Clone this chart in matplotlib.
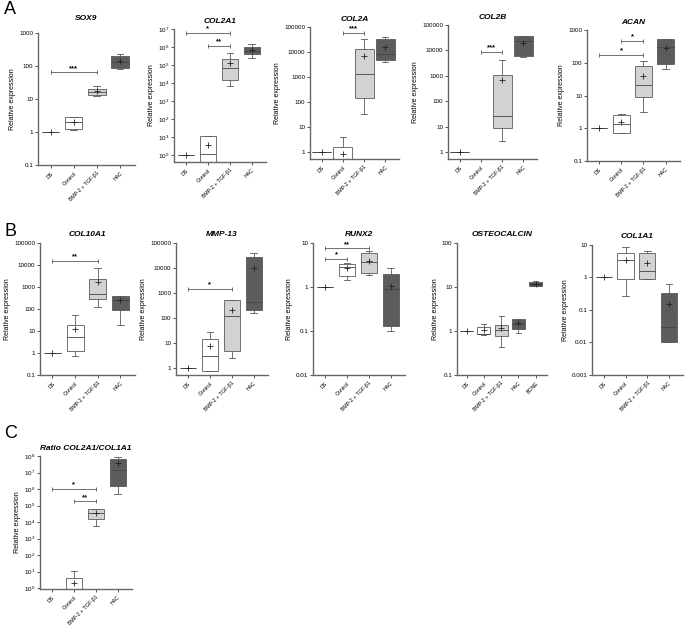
import matplotlib
matplotlib.use("Agg")
import matplotlib.pyplot as plt
from matplotlib.ticker import FixedLocator, NullLocator, FuncFormatter, LogFormatterSciNotation

plt.rcParams['font.family'] = ['Liberation Sans', 'DejaVu Sans']

# ---------------- data ----------------
CATS = ["DS", "Control", "BMP-2 + TGF-β1", "HAC"]
CATS_OC = ["DS", "Control", "BMP-2 + TGF-β1", "HAC", "BONE"]

# each group: [whisker_low, q1, median, q3, whisker_high, mean]
SOX9 = [[1, 1, 1, 1, 1, 1], [1.15, 1.2, 2.0, 2.8, 2.9, 2.0],
        [12.4, 13.2, 16, 20, 25, 18], [80, 87, 130, 200, 230, 145]]
SOX9_SIG = [(0, 2, 65, "***")]

COL2A1 = [[1, 1, 1, 1, 1, 1], [0.3, 0.3, 1.2, 11, 12, 3.5],
          [6.8e3, 1.5e4, 6.8e4, 2.1e5, 4.6e5, 1.3e5], [2.5e5, 4.1e5, 6e5, 1e6, 1.5e6, 7e5]]
COL2A1_SIG = [(0, 2, 6e6, "*"), (1, 2, 1.2e6, "**")]

COL2A = [[1, 1, 1, 1, 1, 1], [0.3, 0.3, 0.4, 1.6, 4, 0.8],
         [32, 140, 1300, 13000, 33000, 7000], [4000, 4600, 8500, 33000, 40000, 16000]]
COL2A_SIG = [(1, 2, 58000, "***")]

COL2B = [[1, 1, 1, 1, 1, 1], None,
         [2.7, 9.1, 25, 1070, 4000, 710], [5500, 5750, 24000, 36000, 38000, 20000]]
COL2B_SIG = [(1, 2, 9000, "***")]

ACAN = [[1, 1, 1, 1, 1, 1], [0.72, 0.74, 1.39, 2.56, 2.7, 1.6],
        [3.2, 8.9, 21, 80, 110, 39], [66, 93, 310, 520, 520, 290]]
ACAN_SIG = [(1, 2, 460, "*"), (0, 2, 175, "*")]

COL10A1 = [[1, 1, 1, 1, 1, 1], [0.73, 1.23, 5.4, 19, 51, 12.7],
           [120, 300, 490, 2400, 7100, 1700], [18, 90, 250, 400, 410, 250]]
COL10A1_SIG = [(0, 2, 15000, "**")]

MMP13 = [[1, 1, 1, 1, 1, 1], [0.74, 0.74, 3.0, 15, 27, 7.6],
         [2.6, 4.6, 115, 510, 510, 215], [165, 215, 440, 27000, 40000, 10000]]
MMP13_SIG = [(0, 2, 1500, "*")]

RUNX2 = [[1, 1, 1, 1, 1, 1], [1.46, 1.74, 2.8, 3.4, 3.6, 2.7],
         [1.9, 2.1, 3.66, 5.9, 6.5, 3.85], [0.1, 0.13, 0.92, 1.93, 2.7, 1.03]]
RUNX2_SIG = [(0, 2, 7.6, "**"), (0, 1, 4.4, "*")]

OSTEOCALCIN = [[1, 1, 1, 1, 1, 1], [0.82, 0.84, 0.87, 1.23, 1.47, 1.03],
               [0.43, 0.77, 1.03, 1.4, 2.17, 1.17], [0.92, 1.13, 1.47, 1.85, 1.9, 1.5],
               [10.3, 10.8, 12, 13, 14, 12]]
OSTEOCALCIN_SIG = []

COL1A1 = [[1, 1, 1, 1, 1, 1], [0.27, 0.87, 3.4, 5.5, 8.9, 3.4],
          [0.89, 0.89, 1.57, 5.7, 6.5, 2.8], [0.01, 0.01, 0.03, 0.34, 0.62, 0.148]]
COL1A1_SIG = []

RATIO = [None, [0.5, 0.5, 0.6, 4, 11, 2],
         [5500, 15000, 38000, 60000, 65000, 38000], [5.2e5, 1.45e6, 1.45e7, 7e7, 8.7e7, 3.6e7]]
RATIO_SIG = [(0, 2, 1e6, "*"), (1, 2, 1.8e5, "**")]

FILL = ["white", "white", "#d2d2d2", "#5c5c5c", "#4a4a4a"]
EDGE = "#5a5a5a"

# ---------------- figure ----------------
W, H = 685, 626
fig = plt.figure(figsize=(W / 100, H / 100), dpi=100)


def panel(box, title, data, sig, cats, ylim, yticks, sci, gap, bw=0.75):
    l, t, r, b = box
    ax = fig.add_axes([l / W, 1 - b / H, (r - l) / W, (b - t) / H])
    ax.set_yscale('log')
    stats, pos, cols = [], [], []
    for i, d in enumerate(data):
        if d is None:
            continue
        lo, q1, md, q3, hi, mn = d
        stats.append(dict(whislo=lo, q1=q1, med=md, q3=q3, whishi=hi, mean=mn, fliers=[]))
        pos.append(i)
        cols.append(FILL[i])
    bp = ax.bxp(stats, positions=pos, widths=bw, patch_artist=True, showmeans=True,
                showfliers=False, capwidths=0.3,
                boxprops=dict(edgecolor=EDGE, linewidth=0.6),
                whiskerprops=dict(color=EDGE, linewidth=0.6),
                capprops=dict(color=EDGE, linewidth=0.6),
                medianprops=dict(color="#444444", linewidth=0.6),
                meanprops=dict(marker='+', markeredgecolor='#222222', markersize=4,
                               markeredgewidth=0.6, linestyle='none'))
    for p, c in zip(bp['boxes'], cols):
        p.set_facecolor(c)
    for (i, j, y, txt) in sig:
        ax.plot([i, j], [y, y], color=EDGE, lw=0.6, marker='|', ms=3, mew=0.6)
        ax.annotate(txt, ((i + j) / 2, y), xytext=(0, 0.3), textcoords='offset points',
                    ha='center', va='bottom', fontsize=5.5, fontweight='bold')
    n = len(cats)
    ax.set_xlim(-0.55, n - 1 + 0.65)
    ax.set_ylim(*ylim)
    ax.yaxis.set_major_locator(FixedLocator(yticks))
    ax.yaxis.set_minor_locator(NullLocator())
    if sci:
        ax.yaxis.set_major_formatter(LogFormatterSciNotation())
    else:
        ax.yaxis.set_major_formatter(FuncFormatter(lambda v, p: '%g' % v))
    ax.set_xticks(range(n))
    ax.set_xticklabels(cats, rotation=45, ha='right', rotation_mode='anchor', fontsize=3.8)
    ax.tick_params(axis='y', labelsize=4.5, length=2.5, width=0.7, color='#555555', pad=1)
    ax.tick_params(axis='x', length=2, width=0.7, color='#555555', pad=2)
    for s in ['top', 'right']:
        ax.spines[s].set_visible(False)
    for s in ['left', 'bottom']:
        ax.spines[s].set_color('#666666')
        ax.spines[s].set_linewidth(1.0)
    ax.set_ylabel("Relative expression", fontsize=5, labelpad=2)
    ax.set_title(title, fontsize=6, fontweight='bold', fontstyle='italic', pad=gap)
    return ax


def dec(a, b):
    return [10.0 ** k for k in range(a, b + 1)]


panel((38, 33, 135, 165), "SOX9", SOX9, SOX9_SIG, CATS, (0.1, 1000), dec(-1, 3), False, 9)
panel((174, 29, 266, 162), "COL2A1", COL2A1, COL2A1_SIG, CATS, (10 ** -0.39, 1e7), dec(0, 7), True, 4)
panel((310, 27, 399, 159), "COL2A", COL2A, COL2A_SIG, CATS, (10 ** -0.28, 1e5), dec(0, 5), False, 4, 0.9)
panel((448, 25, 537, 159), "COL2B", COL2B, COL2B_SIG, CATS, (10 ** -0.28, 1e5), dec(0, 5), False, 4, 0.9)
panel((587, 30, 680, 161), "ACAN", ACAN, ACAN_SIG, CATS, (0.1, 1000), dec(-1, 3), False, 4)

panel((40, 243, 135, 375), "COL10A1", COL10A1, COL10A1_SIG, CATS, (0.1, 1e5), dec(-1, 5), False, 5)
panel((176, 243, 268, 375), "MMP-13", MMP13, MMP13_SIG, CATS, (10 ** -0.28, 1e5), dec(0, 5), False, 5)
panel((313, 243, 405, 375), "RUNX2", RUNX2, RUNX2_SIG, CATS, (0.01, 10), dec(-2, 1), False, 5)
panel((457, 243, 547, 375), "OSTEOCALCIN", OSTEOCALCIN, OSTEOCALCIN_SIG, CATS_OC, (0.1, 100), dec(-1, 2), False, 5)
panel((592, 245, 683, 375), "COL1A1", COL1A1, COL1A1_SIG, CATS, (0.001, 10), dec(-3, 1), False, 5)

panel((40, 456, 132, 589), "Ratio COL2A1/COL1A1", RATIO, RATIO_SIG, CATS, (10 ** -0.05, 1e8), dec(0, 8), True, 4)

for letter, y in [("A", 10), ("B", 232), ("C", 433)]:
    fig.text(4 / W, 1 - y / H, letter, fontsize=13, ha='left', va='center')

fig.savefig("out.png", dpi=100)
